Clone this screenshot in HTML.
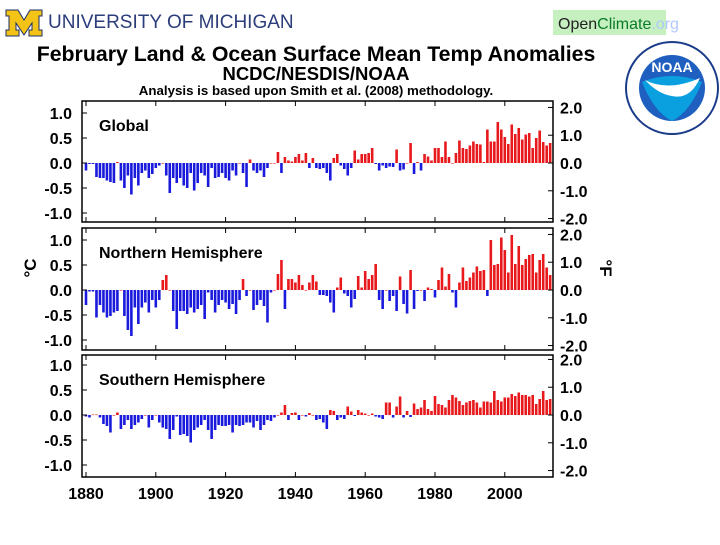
<!DOCTYPE html>
<html><head><meta charset="utf-8"><style>
body{margin:0;background:#fff;width:720px;height:540px;overflow:hidden;font-family:"Liberation Sans",sans-serif}
svg text{font-family:"Liberation Sans",sans-serif}
</style></head><body>
<svg id="c" width="720" height="540">
<g>
<path d="M6 10 h12 l6 10 l6 -10 h12 v6 h-3 v14 h3 v6 h-13 v-6 h3 v-7 l-8 12 l-8 -12 v7 h3 v6 h-13 v-6 h3 v-14 h-3z" fill="#f3c316" stroke="#1d2f6b" stroke-width="1"/>
<text x="48" y="28" font-family="Liberation Serif" font-size="19" fill="#2b3d7a">UNIVERSITY OF MICHIGAN</text>
</g>
<g><rect x="553" y="10" width="113" height="25" fill="#c6f0c0"/><text x="558" y="29" font-size="16" fill="#222">Open<tspan fill="#0a7a2a">Climate</tspan><tspan fill="#b0c8ff">.org</tspan></text></g>
<g><circle cx="672" cy="88" r="46" fill="#fff" stroke="#1b3c8a" stroke-width="2"/><circle cx="672" cy="88" r="33" fill="#1e5fbf"/><path d="M642 82 Q672 70 702 82 Q690 112 672 121 Q654 112 642 82z" fill="#0aa0e0"/><path d="M645 80 Q668 92 700 78 Q690 100 672 96 Q658 94 645 80z" fill="#fff"/><text x="672" y="72" font-size="14" font-weight="bold" fill="#fff" text-anchor="middle">NOAA</text></g>
<text x="316" y="61" font-size="21.3" font-weight="bold" text-anchor="middle">February Land &amp; Ocean Surface Mean Temp Anomalies</text>
<text x="316" y="80" font-size="18.5" font-weight="bold" text-anchor="middle">NCDC/NESDIS/NOAA</text>
<text x="316" y="95" font-size="13.3" font-weight="bold" text-anchor="middle">Analysis is based upon Smith et al. (2008) methodology.</text>
<text transform="translate(36,268) rotate(-90)" font-size="17" font-weight="bold" text-anchor="middle">°C</text>
<text transform="translate(600,268) rotate(90)" font-size="17" font-weight="bold" text-anchor="middle">°F</text>
</svg>
<script>
const years0 = 1880;
const globalVals = [-0.15,-0.02,-0.02,-0.28,-0.3,-0.3,-0.35,-0.38,-0.4,0.02,-0.35,-0.5,-0.25,-0.63,-0.3,-0.45,-0.2,-0.15,-0.3,-0.22,-0.1,-0.05,0,-0.25,-0.6,-0.3,-0.4,-0.3,-0.45,-0.5,-0.2,-0.55,-0.4,-0.2,-0.25,-0.48,-0.1,-0.3,-0.28,-0.2,-0.3,-0.35,-0.15,-0.25,0,-0.2,-0.48,0.07,-0.15,-0.2,-0.15,-0.28,-0.1,0,0,
0.22,-0.2,0.12,0.05,0.03,0.12,0.18,0.05,0.2,-0.1,0.1,-0.1,-0.12,-0.1,-0.2,-0.35,0.1,0.18,-0.05,-0.12,-0.25,-0.1,0.25,0.07,0.18,0.18,0.2,0.3,-0.02,-0.15,-0.05,-0.1,-0.07,-0.08,0.27,-0.15,-0.13,0,0.4,-0.22,0.02,-0.15,0.18,0.13,0.05,0.3,0.3,0.12,0.43,0.12,0,0.2,0.45,0.3,0.28,0.35,0.43,0.38,0.37,0.02,0.67,0.43,0.43,0.82,0.67,0.52,0.38,0.77,0.58,0.7,0.47,0.57,0.6,0.3,0.5,0.65,0.42,0.35,0.4];
const northVals = [-0.3,-0.03,-0.03,-0.55,-0.3,-0.45,-0.55,-0.52,-0.45,-0.42,0,-0.52,-0.8,-0.92,-0.35,-0.68,-0.35,-0.25,-0.45,-0.2,-0.35,-0.2,0.2,0.3,0,-0.42,-0.78,-0.42,-0.42,-0.48,-0.35,-0.45,-0.38,-0.3,-0.58,-0.05,-0.2,-0.45,-0.3,-0.2,-0.25,-0.38,-0.28,-0.48,-0.2,0.22,-0.12,0,-0.4,-0.3,-0.2,-0.32,-0.65,-0.05,0,0.32,0.6,-0.38,0.22,0.22,0.15,0.3,0.1,0,0.15,0.3,
0.17,-0.1,-0.1,-0.12,-0.25,-0.45,0.05,0.25,-0.07,-0.12,-0.35,-0.18,0.28,0.05,0.38,0.22,0.3,0.52,-0.2,-0.38,0,-0.22,-0.12,-0.42,0.27,-0.28,-0.47,0.4,-0.38,-0.02,0,-0.22,0.05,0.02,-0.15,0.2,0.45,0.07,0.32,-0.05,-0.35,0.15,0.45,0.18,0.25,0.35,0.47,0.38,0.4,-0.12,1.0,0.5,0.52,1.05,0.8,0.35,1.1,0.52,0.88,0.5,0.62,0.7,0.72,0.35,0.6,0.72,0.45,0.3];
const southVals = [-0.03,-0.05,0.01,0.01,-0.05,-0.18,-0.22,-0.35,0,0.05,-0.28,-0.2,-0.1,-0.28,-0.2,-0.15,-0.08,0,-0.25,-0.1,0,-0.15,-0.25,-0.28,-0.48,-0.3,-0.03,-0.4,-0.38,-0.42,-0.55,-0.3,-0.25,-0.2,-0.1,-0.3,-0.48,-0.3,-0.2,-0.22,-0.22,-0.2,-0.35,-0.2,-0.22,-0.2,-0.15,-0.15,-0.25,-0.12,-0.3,-0.2,-0.1,-0.12,-0.05,0,0.05,0.2,-0.1,0.04,0.05,-0.1,0,-0.03,0.04,0,
-0.1,-0.08,-0.15,-0.28,0.1,0.08,-0.1,-0.05,-0.08,0.17,0.07,-0.02,0.1,0.05,0.03,0,0.03,-0.03,-0.05,-0.08,0.25,0.25,-0.05,0.17,0.37,-0.05,0.08,-0.04,0.23,0.12,0.15,0.3,0.12,0.08,0.38,0.22,0.2,0.15,0.3,0.4,0.35,0.28,0.2,0.25,0.28,0.3,0.25,0.15,0.27,0.27,0.25,0.48,0.3,0.27,0.35,0.35,0.42,0.38,0.45,0.4,0.4,0.37,0.4,0.22,0.32,0.48,0.3,0.32];
const panelNames = ["Global","Northern Hemisphere","Southern Hemisphere"];
const cTicks = ["1.0","0.5","0.0","-0.5","-1.0"];
const cTickVals = [1,0.5,0,-0.5,-1];
const fTicks = ["2.0","1.0","0.0","-1.0","-2.0"];
const fTickVals = [2,1,0,-1,-2];
const xTickYears = [1880,1900,1920,1940,1960,1980,2000];

const NS="http://www.w3.org/2000/svg";
const svg=document.getElementById('c');
function el(t,a,p){const e=document.createElementNS(NS,t);for(const k in a)e.setAttribute(k,a[k]);(p||svg).appendChild(e);return e;}
const X0=82,X1=553,pxYear=3.49,xStart=86;
const xs=y=>xStart+(y-years0)*pxYear;
const panels=[{top:101,bot:222,zero:163},{top:228,bot:350,zero:290},{top:355,bot:477,zero:415}];
const data=[globalVals,northVals,southVals];
const kpx=50;
panels.forEach((p,i)=>{
  const ys=v=>p.zero-v*kpx;
  const g=el('g',{});
  
  
  const r=el('rect',{x:X0,y:p.top,width:X1-X0,height:p.bot-p.top,fill:'#fff',stroke:'#000','stroke-width':1.5},g);
  
  
  data[i].forEach((v,j)=>{
    const x=xs(years0+j);
    const b=el('rect',{x:x-1.3,width:2.6,y:Math.min(ys(v),p.zero),height:Math.max(Math.abs(ys(v)-p.zero),0.6),fill:v>=0?'#e8191c':'#1a1adc'},g);
    
    
  });
  cTickVals.forEach((v,k)=>{
    const y=ys(v);
    el('line',{x1:X0,x2:X0+5,y1:y,y2:y,stroke:'#000'},g);
    const t=el('text',{x:72,y:y+6,'font-size':16,'font-weight':'bold','text-anchor':'end'},g);
    t.textContent=cTicks[k];
    
    
  });
  fTickVals.forEach((v,k)=>{
    const y=ys(v/1.8);
    el('line',{x1:X1-5,x2:X1,y1:y,y2:y,stroke:'#000'},g);
    const t=el('text',{x:560,y:y+6,'font-size':16,'font-weight':'bold'},g);
    t.textContent=fTicks[k];
    
    
  });
  xTickYears.forEach(yr=>{const x=xs(yr);el('line',{x1:x,x2:x,y1:p.bot,y2:p.bot-5,stroke:'#000'},g);el('line',{x1:x,x2:x,y1:p.top,y2:p.top+5,stroke:'#000'},g);});
  const t=el('text',{x:99,y:p.top+30,'font-size':16,'font-weight':'bold'},g);
  t.textContent=panelNames[i];
  
  
});
xTickYears.forEach(yr=>{
  const t=el('text',{x:xs(yr),y:499,'font-size':16,'font-weight':'bold','text-anchor':'middle'});
  t.textContent=yr;
  
  
});
</script>
</body></html>
